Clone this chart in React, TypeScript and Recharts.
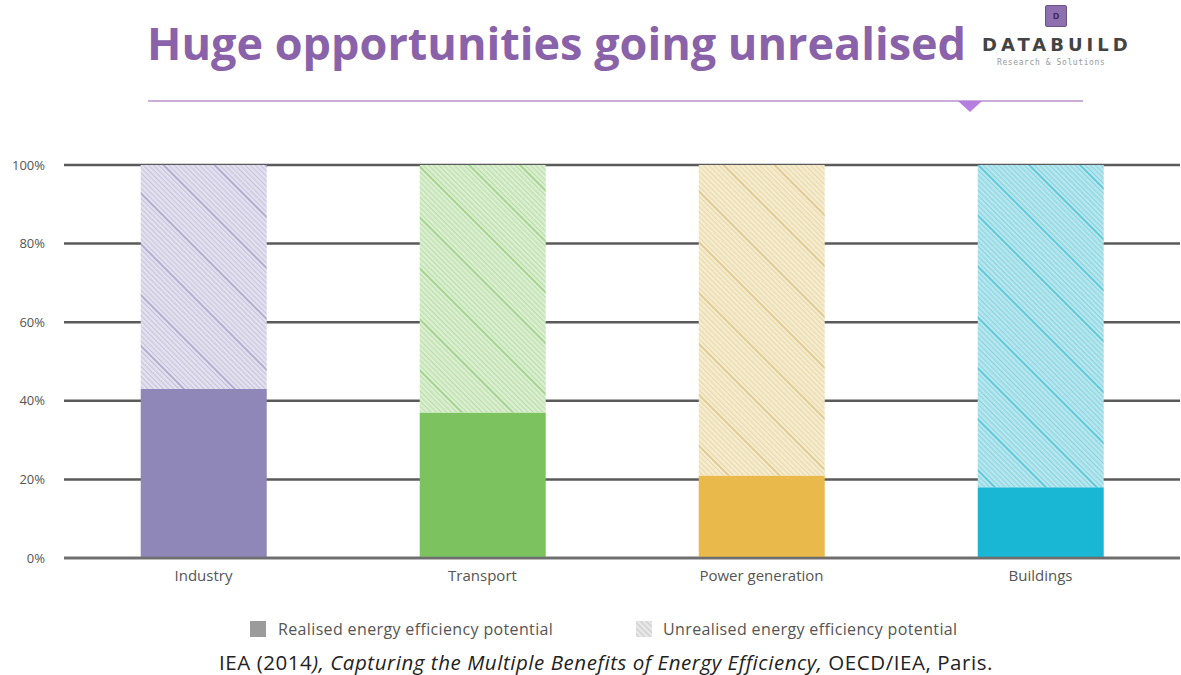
import React from "react";
import { BarChart, Bar, XAxis, YAxis, CartesianGrid, Cell } from "recharts";

const categories = ["Industry", "Transport", "Power generation", "Buildings"];
const realised = [43, 37, 21, 18];
const unrealised = [57, 63, 79, 82];
const yTicks = [0, 20, 40, 60, 80, 100];

const solidColors = ["#8e87b7", "#7cc35f", "#e9b94b", "#1ab7d5"];
const hatchBg = ["#e4e2f0", "#dcefd2", "#f6ecd0", "#b9e7ee"];
const hatchLine = ["#c2bed9", "#b4dca2", "#e6d6a4", "#7fd2e0"];
const hatchDark = ["#a29dc3", "#93cc7a", "#d8c07f", "#43bfd4"];

const data = categories.map((c, i) => ({ name: c, realised: realised[i], unrealised: unrealised[i] }));

const FONT = "'Open Sans', Lato, sans-serif";

function Patterns() {
  const lines = [0, 3.6, 7.2, 10.8, 14.4, 18, 21.6, 25.2, 28.8, 32.4];
  return (
    <svg width={0} height={0} style={{ position: "absolute" }}>
      <defs>
        {hatchBg.map((bg, i) => (
          <pattern key={i} id={`hatch${i}`} patternUnits="userSpaceOnUse" width={10} height={36} patternTransform="rotate(45)">
            <rect width={10} height={36} fill={bg} />
            {lines.map((y, k) => (
              <line key={k} x1={0} x2={10} y1={y + 1} y2={y + 1} stroke={k === 0 ? hatchDark[i] : hatchLine[i]} strokeWidth={k === 0 ? 1.5 : 1} />
            ))}
          </pattern>
        ))}
        <pattern id="hatchGray" patternUnits="userSpaceOnUse" width={4} height={4} patternTransform="rotate(45)">
          <rect width={4} height={4} fill="#e9e9e9" />
          <line x1={0} x2={4} y1={1} y2={1} stroke="#c4c4c4" strokeWidth={1} />
        </pattern>
      </defs>
    </svg>
  );
}

export default function App() {
  return (
    <div style={{ position: "absolute", left: 0, top: 0, width: 1181, height: 675, background: "#fff", overflow: "hidden" }}>
      <Patterns />
      <div style={{ position: "absolute", left: 147, top: 20, fontFamily: FONT, fontWeight: 700, fontSize: 45, lineHeight: 1, color: "#8a62a9", whiteSpace: "nowrap" }}>
        Huge opportunities going unrealised
      </div>
      <div style={{ position: "absolute", left: 148, top: 100, width: 935, height: 2, background: "#c9aed8" }} />
      <svg style={{ position: "absolute", left: 958, top: 101 }} width={24} height={12}>
        <polygon points="0,0 24,0 12,11" fill="#b57ee0" />
      </svg>
      <div style={{ position: "absolute", left: 1045, top: 5, width: 22, height: 22, background: "#8e70b0", border: "1px solid #6a5588", borderRadius: 2, boxSizing: "border-box", color: "#3b2b55", fontFamily: FONT, fontWeight: 700, fontSize: 9, textAlign: "center", lineHeight: "20px" }}>D</div>
      <div style={{ position: "absolute", left: 982, top: 36, fontFamily: "'DejaVu Sans', sans-serif", fontWeight: 700, fontSize: 18, lineHeight: 1, color: "#444", letterSpacing: 4, whiteSpace: "nowrap" }}>DATABUILD</div>
      <div style={{ position: "absolute", left: 997, top: 58, fontFamily: "'DejaVu Sans Mono', monospace", fontSize: 8, color: "#999", letterSpacing: 0.6, whiteSpace: "nowrap" }}>Research &amp; Solutions</div>

      <div style={{ position: "absolute", left: 0, top: 0 }}>
        <BarChart width={1181} height={675} data={data} margin={{ top: 165, right: 1, bottom: 87, left: 0 }} barCategoryGap="27.5%">
          <CartesianGrid horizontal vertical={false} stroke="#5a5a5a" strokeWidth={2.5} />
          <XAxis dataKey="name" height={30} tickLine={false} axisLine={{ stroke: "#6e6e6e", strokeWidth: 2.4 }} tickSize={0} tickMargin={12} tick={{ fill: "#555", fontSize: 15, fontFamily: FONT }} interval={0} />
          <YAxis width={64} domain={[0, 100]} ticks={yTicks} tickFormatter={(v) => `${v}%`} axisLine={false} tickLine={false} tickSize={0} tickMargin={19} tick={{ fill: "#555", fontSize: 13, fontFamily: FONT }} />
          <Bar dataKey="realised" stackId="a" isAnimationActive={false}>
            {data.map((_, i) => (
              <Cell key={i} fill={solidColors[i]} />
            ))}
          </Bar>
          <Bar dataKey="unrealised" stackId="a" isAnimationActive={false}>
            {data.map((_, i) => (
              <Cell key={i} fill={`url(#hatch${i})`} />
            ))}
          </Bar>
        </BarChart>
      </div>

      <div style={{ position: "absolute", left: 250, top: 621, width: 16, height: 16, background: "#9b9b9b" }} />
      <div style={{ position: "absolute", left: 278, top: 619, fontFamily: FONT, fontSize: 16, letterSpacing: 0.36, lineHeight: "20px", color: "#555", whiteSpace: "nowrap" }}>Realised energy efficiency potential</div>
      <svg style={{ position: "absolute", left: 636, top: 621 }} width={16} height={16}>
        <rect width={16} height={16} fill="url(#hatchGray)" />
      </svg>
      <div style={{ position: "absolute", left: 663, top: 619, fontFamily: FONT, fontSize: 16, letterSpacing: 0.37, lineHeight: "20px", color: "#555", whiteSpace: "nowrap" }}>Unrealised energy efficiency potential</div>

      <div style={{ position: "absolute", left: 0, top: 649, width: 1212, textAlign: "center", fontFamily: FONT, fontSize: 20.5, letterSpacing: 0.55, lineHeight: "26px", color: "#222", whiteSpace: "nowrap" }}>
        IEA (2014<i>), Capturing the Multiple Benefits of Energy Efficiency,</i> OECD/IEA, Paris.
      </div>
    </div>
  );
}
